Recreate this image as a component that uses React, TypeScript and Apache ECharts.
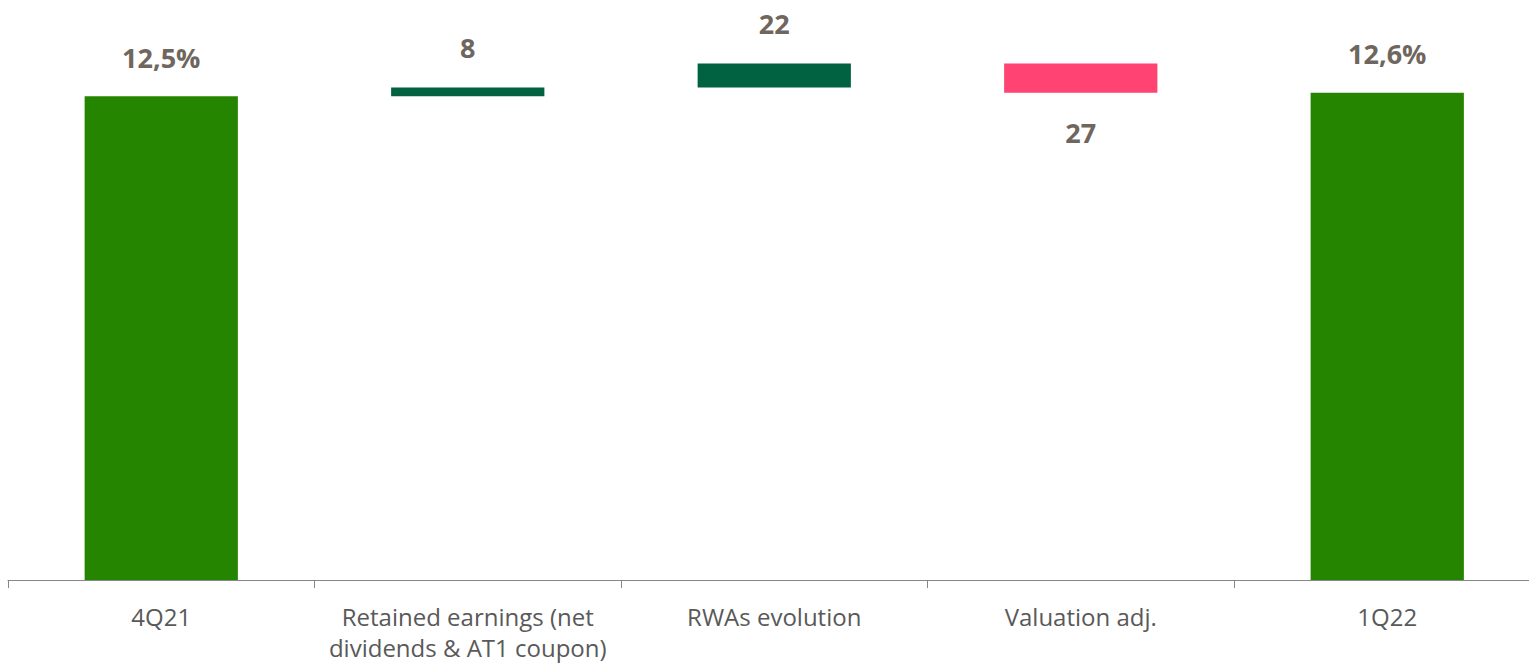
import React, { useEffect, useRef } from "react";
import * as echarts from "echarts";

const categories = [
  "4Q21",
  "Retained earnings (net\ndividends & AT1 coupon)",
  "RWAs evolution",
  "Valuation adj.",
  "1Q22",
];
const startRatio = 12.54; // %
const deltasBp = [8, 22, -27]; // basis points
const totalLabels = ["12,5%", "12,6%"];

const TOTAL_COLOR = "#268500";
const UP_COLOR = "#006241";
const DOWN_COLOR = "#FF4372";
const LABEL_COLOR = "#6F665E";
const AXIS_LABEL_COLOR = "#595959";

export default function App() {
  const ref = useRef<HTMLDivElement>(null);

  useEffect(() => {
    if (!ref.current) return;
    const chart = echarts.init(ref.current, undefined, { renderer: "svg" });

    const base: (number | string)[] = [];
    const totals: (number | string)[] = [];
    const ups: (number | string)[] = [];
    const downs: (number | string)[] = [];
    let level = startRatio;
    base.push("-");
    totals.push(startRatio);
    ups.push("-");
    downs.push("-");
    deltasBp.forEach((d) => {
      const delta = d / 100;
      if (delta >= 0) {
        base.push(level);
        ups.push(delta);
        downs.push("-");
        totals.push("-");
      } else {
        base.push(level + delta);
        downs.push(-delta);
        ups.push("-");
        totals.push("-");
      }
      level += delta;
    });
    const endRatio = level;
    base.push("-");
    totals.push(endRatio);
    ups.push("-");
    downs.push("-");

    const labelFont = {
      color: LABEL_COLOR,
      fontFamily: "Open Sans",
      fontWeight: "bold" as const,
      fontSize: 27,
      lineHeight: 27,
    };

    chart.setOption({
      animation: false,
      grid: {
        left: 8,
        right: -11.5,
        top: 46,
        bottom: 83,
        containLabel: false,
        outerBoundsMode: "none",
      },
      xAxis: {
        type: "category",
        data: categories,
        axisLine: { show: true, lineStyle: { color: "#868686", width: 1 } },
        axisTick: { show: true, length: 8, lineStyle: { color: "#868686" } },
        axisLabel: {
          color: AXIS_LABEL_COLOR,
          fontFamily: "Open Sans",
          fontSize: 24,
          lineHeight: 31,
          margin: 21,
          interval: 0,
        },
      },
      yAxis: {
        type: "value",
        min: 8.1,
        max: 13.0,
        show: false,
        splitLine: { show: false },
      },
      series: [
        {
          type: "bar",
          stack: "w",
          data: base,
          barWidth: "50%",
          itemStyle: { color: "transparent" },
          silent: true,
        },
        {
          type: "bar",
          stack: "w",
          data: totals,
          barWidth: "50%",
          itemStyle: { color: TOTAL_COLOR },
          label: {
            show: true,
            position: "top",
            distance: 25.5,
            ...labelFont,
            formatter: (p: any) => (p.dataIndex === 0 ? totalLabels[0] : totalLabels[1]),
          },
        },
        {
          type: "bar",
          stack: "w",
          data: ups,
          barWidth: "50%",
          itemStyle: { color: UP_COLOR },
          label: {
            show: true,
            position: "top",
            distance: 26,
            ...labelFont,
            formatter: (p: any) => String(Math.round(p.value * 100)),
          },
        },
        {
          type: "bar",
          stack: "w",
          data: downs,
          barWidth: "50%",
          itemStyle: { color: DOWN_COLOR },
          label: {
            show: true,
            position: "bottom",
            distance: 26,
            ...labelFont,
            formatter: (p: any) => String(Math.round(p.value * 100)),
          },
        },
      ],
    });

    return () => chart.dispose();
  }, []);

  return (
    <div
      ref={ref}
      style={{ position: "absolute", left: 0, top: 0, width: 1529, height: 663, background: "#fff" }}
    />
  );
}
